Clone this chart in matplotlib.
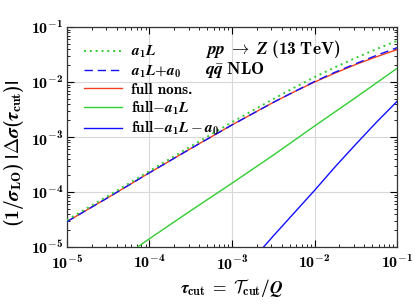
import numpy as np
import matplotlib
matplotlib.use("Agg")
import matplotlib.pyplot as plt
from matplotlib.ticker import LogLocator, FuncFormatter, NullFormatter

plt.rcParams.update({
    "font.family": ["cmb10", "DejaVu Serif"],
    "font.size": 10,
    "mathtext.fontset": "custom",
    "mathtext.rm": "cmb10",
    "mathtext.bf": "cmb10",
    "mathtext.it": "STIXGeneral:italic:bold",
    "mathtext.bfit": "STIXGeneral:italic:bold",
    "mathtext.sf": "STIXGeneral:bold",
    "mathtext.cal": "cmsy10",
    "axes.unicode_minus": False,
})

# log10(tau_cut) sample points and log10 of each curve
lx = [-5.0, -4.5, -4.0, -3.5, -3.0, -2.5, -2.25, -2.0, -1.75, -1.5, -1.25, -1.0]
a1L = [-4.51, -4.07, -3.62, -3.17, -2.73, -2.31, -2.105, -1.91, -1.73, -1.56, -1.40, -1.25]
a1L_a0 = [-4.54, -4.10, -3.65, -3.21, -2.78, -2.37, -2.178, -1.99, -1.82, -1.665, -1.515, -1.375]
full = [-4.54, -4.10, -3.65, -3.21, -2.78, -2.37, -2.18, -2.00, -1.835, -1.68, -1.54, -1.41]

lx_g = [-4.2, -4.0, -3.5, -3.0, -2.5, -2.0, -1.5, -1.0]
full_m_a1L = [-5.06, -4.85, -4.34, -3.84, -3.33, -2.80, -2.28, -1.75]

lx_b = [-2.7, -2.5, -2.0, -1.75, -1.5, -1.25, -1.0]
full_m_a1L_a0 = [-5.14, -4.80, -3.97, -3.54, -3.13, -2.73, -2.35]

GREEN = "#33cc33"
BLUE = "#1010ff"
RED = "#f2401e"

fig = plt.figure(figsize=(4.15, 3.04), dpi=100)
ax = fig.add_axes([0.161, 0.1875, 0.796, 0.7235])

p = lambda v: 10.0 ** np.array(v)
l3, = ax.plot(p(lx), p(full), color=RED, lw=1.0, zorder=3)
l2, = ax.plot(p(lx), p(a1L_a0), color=BLUE, lw=1.0, ls=(0, (6, 3.5)), zorder=4)
l1, = ax.plot(p(lx), p(a1L), color=GREEN, lw=1.4, ls=(0, (1, 2.0)), zorder=5)
l4, = ax.plot(p(lx_g), p(full_m_a1L), color=GREEN, lw=1.0, zorder=3)
l5, = ax.plot(p(lx_b), p(full_m_a1L_a0), color=BLUE, lw=1.0, zorder=3)

ax.set_xscale("log"); ax.set_yscale("log")
ax.set_xlim(1e-5, 1e-1); ax.set_ylim(1e-5, 1e-1)
fmt = FuncFormatter(lambda v, pos: r"$\mathbf{10^{%d}}$" % round(np.log10(v)))
for a in (ax.xaxis, ax.yaxis):
    a.set_major_locator(LogLocator(base=10, numticks=10))
    a.set_minor_locator(LogLocator(base=10, subs=np.arange(2, 10), numticks=10))
    a.set_major_formatter(fmt)
    a.set_minor_formatter(NullFormatter())
ax.tick_params(which="both", direction="in", top=True, right=True, labelsize=11.5)
ax.tick_params(which="major", length=5, width=0.8)
ax.tick_params(axis="y", which="major", pad=2.5)
ax.tick_params(axis="x", which="major", pad=5)
ax.tick_params(which="minor", length=2.5, width=0.6)
ax.grid(True, which="major", color="#d8d8d8", lw=0.8)
ax.set_axisbelow(True)
for s in ax.spines.values():
    s.set_linewidth(0.9); s.set_color("#333333")

ax.set_xlabel(r"$\mathbfit{\tau}_{\mathbf{cut}}\ \mathbf{=}\ \mathcal{T}_{\mathbf{cut}}\mathbf{/}\mathbfit{Q}$",
              fontsize=12.5)
ax.xaxis.set_label_coords(0.5, -0.135)

# y label drawn as figure text so it cannot be pushed off the canvas
fig.text(0.033, 0.495,
         r"$(1/\mathbfit{\sigma}_{\mathbf{LO}})\ \mathsf{|}\Delta\mathbfit{\sigma}(\mathbfit{\tau}_{\mathbf{cut}})\mathsf{|}$",
         rotation=90, fontsize=14, ha="center", va="center")

ax.text(0.418, 0.90, r"$\mathbfit{pp}\ \rightarrow\ \mathbfit{Z}\ \mathbf{(13\ TeV)}$",
        transform=ax.transAxes, fontsize=12.5, va="center", ha="left")
ax.text(0.418, 0.805, r"$\mathbfit{q}\bar{\mathbfit{q}}\ \mathbf{NLO}$",
        transform=ax.transAxes, fontsize=12.5, va="center", ha="left")

labels = [r"$\mathbfit{a}_{\mathbf{1}}\mathbfit{L}$",
          r"$\mathbfit{a}_{\mathbf{1}}\mathbfit{L}\mathbf{+}\mathbfit{a}_{\mathbf{0}}$",
          "full nons.",
          r"full$-\mathbfit{a}_{\mathbf{1}}\mathbfit{L}$",
          r"full$-\mathbfit{a}_{\mathbf{1}}\mathbfit{L}-\mathbfit{a}_{\mathbf{0}}$"]
ax.legend([l1, l2, l3, l4, l5], labels, loc="upper left", frameon=False, fontsize=11,
          handlelength=2.5, handletextpad=0.55, labelspacing=0.2,
          borderaxespad=0.3, bbox_to_anchor=(0.02, 0.97))

fig.savefig("out.png", dpi=100)
